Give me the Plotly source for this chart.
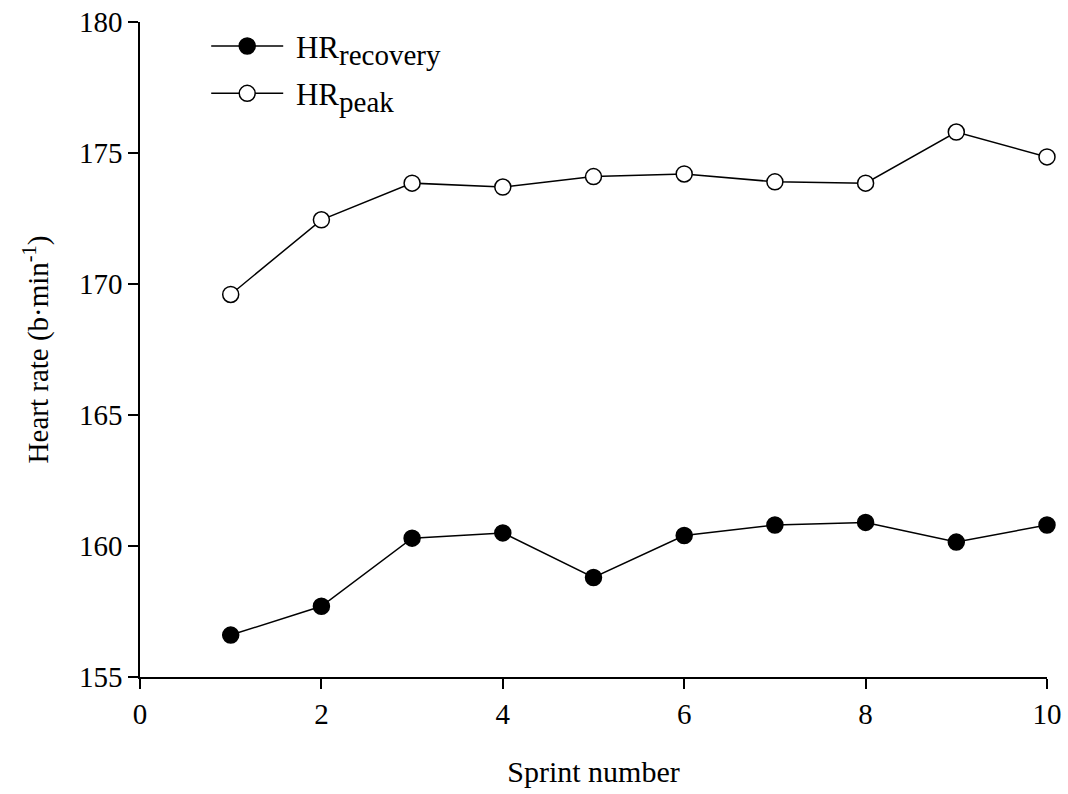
import plotly.graph_objects as go

sprint = [1, 2, 3, 4, 5, 6, 7, 8, 9, 10]
hr_recovery = [156.6, 157.7, 160.3, 160.5, 158.8, 160.4, 160.8, 160.9, 160.15, 160.8]
hr_peak = [169.6, 172.45, 173.85, 173.7, 174.1, 174.2, 173.9, 173.85, 175.8, 174.85]

font = "Liberation Serif"

fig = go.Figure()
fig.add_trace(go.Scatter(
    x=sprint, y=hr_recovery, mode="lines+markers",
    name=' HR<sub><span style="font-size:29px">recovery</span></sub>',
    legendgroup="rec",
    line=dict(color="black", width=1.5),
    marker=dict(symbol="circle", size=16, color="black", line=dict(color="black", width=1.5)),
    cliponaxis=False,
))
fig.add_trace(go.Scatter(
    x=sprint, y=hr_peak, mode="lines+markers",
    name=' HR<sub><span style="font-size:29px">peak</span></sub>',
    legendgroup="peak",
    line=dict(color="black", width=1.5),
    marker=dict(symbol="circle", size=16, color="white", line=dict(color="black", width=1.5)),
    cliponaxis=False,
))

fig.update_layout(
    width=1068, height=794,
    margin=dict(l=140, r=21, t=22, b=117),
    paper_bgcolor="white", plot_bgcolor="white",
    font=dict(family=font, size=29, color="black"),
    showlegend=True,
    legend=dict(x=0.073, y=1.004, xanchor="left", yanchor="top",
                bgcolor="rgba(0,0,0,0)", font=dict(size=31, family=font),
                itemwidth=72, tracegroupgap=4),
    xaxis=dict(range=[0, 10], tickvals=[0, 2, 4, 6, 8, 10], showline=True,
               linecolor="black", linewidth=1.5, ticks="outside", ticklen=10,
               tickwidth=1.5, tickcolor="black", showgrid=False, zeroline=False,
               automargin=False,
               title=dict(text="Sprint number", font=dict(size=30, family=font), standoff=32),
               tickfont=dict(size=29, family=font)),
    yaxis=dict(range=[155, 180], tickvals=[155, 160, 165, 170, 175, 180], showline=True,
               linecolor="black", linewidth=1.5, ticks="outside", ticklen=10,
               tickwidth=1.5, tickcolor="black", showgrid=False, zeroline=False,
               automargin=False,
               title=dict(text="Heart rate (b·min<sup>-1</sup>)", font=dict(size=29, family=font), standoff=22),
               tickfont=dict(size=29, family=font)),
)

fig.write_html("out.html")
